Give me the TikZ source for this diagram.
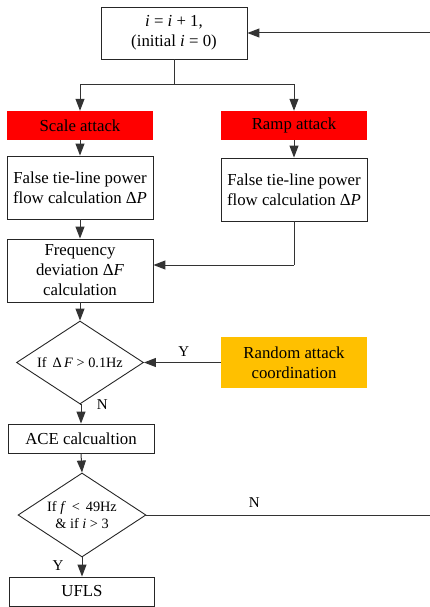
\documentclass[tikz,border=0pt]{standalone}
\usepackage{fontspec}
\setmainfont{Liberation Serif}
\usetikzlibrary{shapes.geometric,arrows.meta}
\definecolor{attackred}{RGB}{255,0,0}
\definecolor{randorange}{RGB}{255,192,0}
\begin{document}
\begin{tikzpicture}[x=1pt,y=1pt,
  font=\fontsize{16.8}{20}\selectfont,
  box/.style={draw=black!85,line width=0.9pt,align=center,inner sep=0pt},
  fillbox/.style={align=center,inner sep=0pt},
  dia/.style={draw=black!85,line width=0.9pt,diamond,inner sep=0pt,align=center,font=\fontsize{14.3}{17}\selectfont},
  conn/.style={draw=black!80,line width=1pt},
  arr/.style={conn,-{Triangle[length=12pt,width=9pt]}},
  lab/.style={font=\fontsize{15}{18}\selectfont,inner sep=0pt}]
\useasboundingbox (0,0) rectangle (430,-607);
% nodes
\node[box,minimum width=146,minimum height=52] (top) at (174,-33) {\textit{i} = \textit{i} + 1,\\(initial \textit{i} = 0)};
\node[fillbox,fill=attackred,minimum width=146,minimum height=29] (scale) at (80,-125.5) {Scale attack};
\node[fillbox,fill=attackred,minimum width=146,minimum height=29] (ramp) at (294,-125.5) {Ramp attack};
\node[box,minimum width=146,minimum height=63] (fl) at (80,-187.5) {False tie-line power\\flow calculation Δ\textit{P}};
\node[box,minimum width=146,minimum height=63] (fr) at (294,-189.5) {False tie-line power\\flow calculation Δ\textit{P}};
\node[box,minimum width=146,minimum height=63] (freq) at (80,-270.5) {Frequency\\deviation Δ\textit{F}\\calculation};
\node[dia,minimum width=127,minimum height=83,aspect=1.53] (d1) at (80,-362.5) {If \,Δ\,\textit{F} > 0.1Hz};
\node[fillbox,fill=randorange,minimum width=146,minimum height=51] (rand) at (294,-362.5) {Random attack\\coordination};
\node[box,minimum width=146,minimum height=29] (ace) at (81,-438.5) {ACE calcualtion};
\node[dia,minimum width=128,minimum height=84,aspect=1.52] (d2) at (82,-515) {If \textit{f} \,<\, 49Hz\\\& if \textit{i} > 3};
\node[box,minimum width=145,minimum height=29] (ufls) at (82,-591.5) {UFLS};
% coordinates
\coordinate (split) at (174,-85);
\coordinate (redge) at (430,-33);
\coordinate (redge2) at (430,-515);
\coordinate (frturn) at (294,-265);
% connectors
\draw[conn] (top.south) -- (split);
\draw[arr] (split) -| (scale.north);
\draw[arr] (split) -| (ramp.north);
\draw[arr] (scale.south) -- (fl.north);
\draw[arr] (ramp.south) -- (fr.north);
\draw[arr] (fl.south) -- (freq.north);
\draw[conn] (fr.south) -- (frturn);
\draw[arr] (frturn) -- (frturn -| freq.east);
\draw[arr] (freq.south) -- (d1.north);
\draw[arr] (rand.west) -- node[lab,above=6pt,pos=0.48] {Y} (d1.east);
\draw[arr] (d1.south) -- node[lab,right=16pt,pos=0.45] {N} (ace.north |- d1.south) -- (ace.north);
\draw[arr] (ace.south) -- (d2.north);
\draw[conn] (d2.east) -- node[lab,above=7pt,pos=0.38] {N} (redge2);
\draw[arr] (d2.south) -- node[lab,left=18pt,pos=0.4] {Y} (ufls.north);
\draw[arr] (redge) -- (top.east);
\end{tikzpicture}
\end{document}
